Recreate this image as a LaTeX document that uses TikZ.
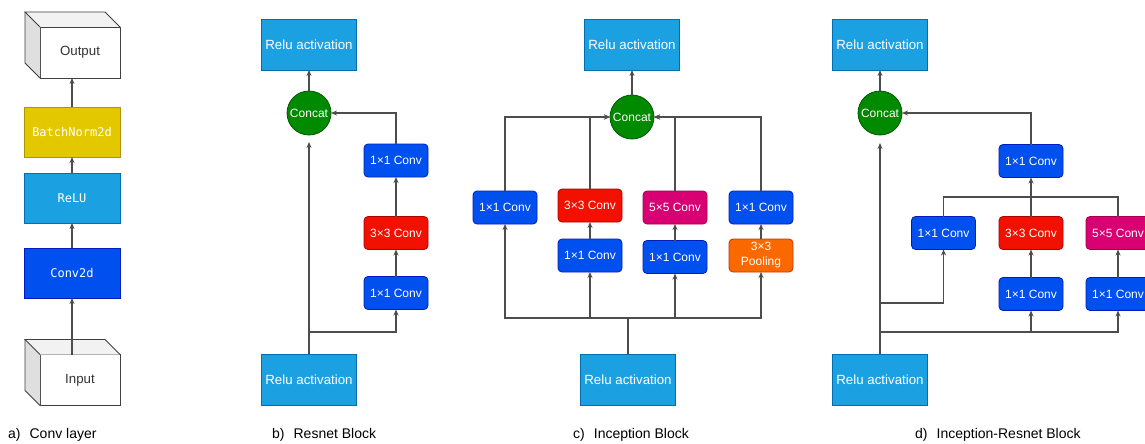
\documentclass[tikz,border=0pt]{standalone}
\usepackage{fontspec}
\setmainfont{Liberation Sans}
\newfontfamily\codefont{DejaVu Sans Mono}
\usetikzlibrary{arrows.meta}

\definecolor{cyanf}{HTML}{1BA1E2}\definecolor{cyand}{HTML}{006EAF}
\definecolor{bluef}{HTML}{0050EF}\definecolor{blued}{HTML}{001DBC}
\definecolor{yelf}{HTML}{E3C800}\definecolor{yeld}{HTML}{B09500}
\definecolor{redf}{HTML}{F21000}\definecolor{redd}{HTML}{B20000}
\definecolor{magf}{HTML}{D80073}\definecolor{magd}{HTML}{A50040}
\definecolor{orf}{HTML}{FA6800}\definecolor{ord}{HTML}{C73500}
\definecolor{grnf}{HTML}{008A00}\definecolor{grnd}{HTML}{005700}
\definecolor{wirec}{HTML}{4D4D4D}

\newcommand{\cubefaces}[1]{%
  \fill[gray!25] (#1.north west) -- ++(-15,-15) -- ([shift={(-15,-15)}]#1.south west) -- (#1.south west) -- cycle;
  \fill[gray!10] (#1.north west) -- ++(-15,-15) -- ([shift={(-15,-15)}]#1.north east) -- (#1.north east) -- cycle;
  \draw[cubeline] (#1.north west) -- ++(-15,-15) -- ([shift={(-15,-15)}]#1.north east) -- (#1.north east);
  \draw[cubeline] ([shift={(-15,-15)}]#1.north west) -- ([shift={(-15,-15)}]#1.south west) -- (#1.south west);
}

\begin{document}
\begin{tikzpicture}[x=1pt,y=-1pt,
  blockbox/.style={draw, outer sep=0pt, inner sep=0pt, text=white, line width=0.8pt},
  relubox/.style={blockbox, fill=cyanf, draw=cyand, minimum width=95pt, minimum height=51pt, font=\fontsize{13.3}{16}\selectfont},
  convbox/.style={blockbox, rounded corners=4pt, minimum width=64pt, minimum height=33pt, font=\fontsize{12}{14}\selectfont},
  convone/.style={convbox, fill=bluef, draw=blued},
  convthree/.style={convbox, fill=redf, draw=redd},
  convfive/.style={convbox, fill=magf, draw=magd},
  poolbox/.style={convbox, fill=orf, draw=ord, align=center, font=\fontsize{12}{15}\selectfont},
  concatnode/.style={blockbox, circle, fill=grnf, draw=grnd, minimum size=44pt, font=\fontsize{12}{14}\selectfont},
  torchbox/.style={blockbox, minimum width=96pt, minimum height=50pt, font=\codefont\fontsize{12}{14}\selectfont},
  cubefront/.style={draw=black!75, line width=0.8pt, fill=white, outer sep=0pt, minimum width=80pt, minimum height=51pt, text=black!80, font=\fontsize{13.3}{16}\selectfont},
  cubeline/.style={draw=black!75, line width=0.8pt},
  wireline/.style={draw=wirec, line width=1.1pt},
  arrline/.style={wireline, -{Stealth[length=6pt,width=5pt]}},
  captxt/.style={anchor=base west, inner sep=0pt, font=\fontsize{14}{17}\selectfont}
]
  \fill[white] (0,0) rectangle (1145,444);
  \useasboundingbox (0,0) rectangle (1145,444);

  % a) conv layer
  \node[cubefront] (aout) at (80,52.5) {Output};
  \cubefaces{aout}
  \node[torchbox, fill=yelf, draw=yeld] (abn) at (72,132) {BatchNorm2d};
  \node[torchbox, fill=cyanf, draw=cyand] (arelu) at (72,198) {ReLU};
  \node[torchbox, fill=bluef, draw=blued] (aconv) at (72,273) {Conv2d};
  \node[cubefront] (ain) at (80,380) {Input};
  \cubefaces{ain}
  \draw[arrline] (ain.north -| aconv.south) -- (aconv.south);
  \draw[arrline] (aconv.north) -- (arelu.south);
  \draw[arrline] (arelu.north) -- (abn.south);
  \draw[arrline] (abn.north) -- (abn.north |- aout.south);
  \node[captxt] (acap) at (8,438) {a)\hspace{9pt}Conv layer};

  % b) resnet block
  \node[relubox] (btop) at (309,44.5) {Relu activation};
  \node[concatnode] (bcat) at (309,113) {Concat};
  \node[convone] (bone) at (396,160.5) {1×1 Conv};
  \node[convthree] (bthree) at (396,233) {3×3 Conv};
  \node[convone] (bin) at (396,293) {1×1 Conv};
  \node[relubox] (bbot) at (309,379.5) {Relu activation};
  \coordinate (bsplit) at (309,332);
  \draw[arrline] (bcat.north) -- (btop.south);
  \draw[arrline, shorten >=7pt] (bbot.north) -- (bcat.south);
  \draw[arrline] (bsplit) -| (bin.south);
  \draw[arrline] (bin.north) -- (bthree.south);
  \draw[arrline] (bthree.north) -- (bone.south);
  \draw[arrline] (bone.north) |- (bcat.east);
  \node[captxt] (bcap) at (272,438) {b)\hspace{9pt}Resnet Block};

  % c) inception block
  \node[relubox] (ctop) at (632,44.5) {Relu activation};
  \node[concatnode] (ccat) at (632,117) {Concat};
  \node[convone] (cone) at (505,207.5) {1×1 Conv};
  \node[convthree] (cthree) at (590,205.5) {3×3 Conv};
  \node[convone] (cthreein) at (590,255.5) {1×1 Conv};
  \node[convfive] (cfive) at (675,207.5) {5×5 Conv};
  \node[convone] (cfivein) at (675,257) {1×1 Conv};
  \node[convone] (cpoolout) at (761,207.5) {1×1 Conv};
  \node[poolbox] (cpool) at (761,255.5) {3×3\\Pooling};
  \node[relubox] (cbot) at (628,380) {Relu activation};
  \coordinate (cbus) at (628,318);
  \draw[wireline] (cbot.north) -- (cbus);
  \draw[arrline] (cbus) -| (cone.south);
  \draw[arrline] (cbus) -| (cthreein.south);
  \draw[arrline] (cbus) -| (cfivein.south);
  \draw[arrline] (cbus) -| (cpool.south);
  \draw[arrline] (cthreein.north) -- (cthree.south);
  \draw[arrline] (cfivein.north) -- (cfive.south);
  \draw[arrline] (cpool.north) -- (cpoolout.south);
  \draw[arrline] (cone.north) |- (ccat.west);
  \draw[arrline] (cthree.north) |- (ccat.west);
  \draw[arrline] (cfive.north) |- (ccat.east);
  \draw[arrline] (cpoolout.north) |- (ccat.east);
  \draw[arrline] (ccat.north) -- (ctop.south);
  \node[captxt] (ccap) at (573,438) {c)\hspace{9pt}Inception Block};

  % d) inception-resnet block
  \node[relubox] (dtop) at (880,44.5) {Relu activation};
  \node[concatnode] (dcat) at (880,113) {Concat};
  \node[convone] (dout) at (1031,161) {1×1 Conv};
  \node[convone] (done) at (943.5,233) {1×1 Conv};
  \node[convthree] (dthree) at (1031,233) {3×3 Conv};
  \node[convfive] (dfive) at (1118,233) {5×5 Conv};
  \node[convone] (dthreein) at (1031,294) {1×1 Conv};
  \node[convone] (dfivein) at (1118,294) {1×1 Conv};
  \node[relubox] (dbot) at (880,379.5) {Relu activation};
  \coordinate (dsplitone) at (880,303);
  \coordinate (dsplittwo) at (880,332);
  \coordinate (dmerge) at (1031,197);
  \draw[arrline] (dcat.north) -- (dtop.south);
  \draw[arrline, shorten >=8pt] (dbot.north) -- (dcat.south);
  \draw[arrline] (dsplitone) -| (done.south);
  \draw[arrline] (dsplittwo) -| (dthreein.south);
  \draw[arrline] (dsplittwo) -| (dfivein.south);
  \draw[arrline] (dthreein.north) -- (dthree.south);
  \draw[arrline] (dfivein.north) -- (dfive.south);
  \draw[wireline] (done.north) |- (dmerge);
  \draw[wireline] (dfive.north) |- (dmerge);
  \draw[wireline] (dthree.north) -- (dmerge);
  \draw[arrline] (dmerge) -- (dout.south);
  \draw[arrline] (dout.north) |- (dcat.east);
  \node[captxt] (dcap) at (915,438) {d)\hspace{9pt}Inception-Resnet Block};
\end{tikzpicture}
\end{document}
